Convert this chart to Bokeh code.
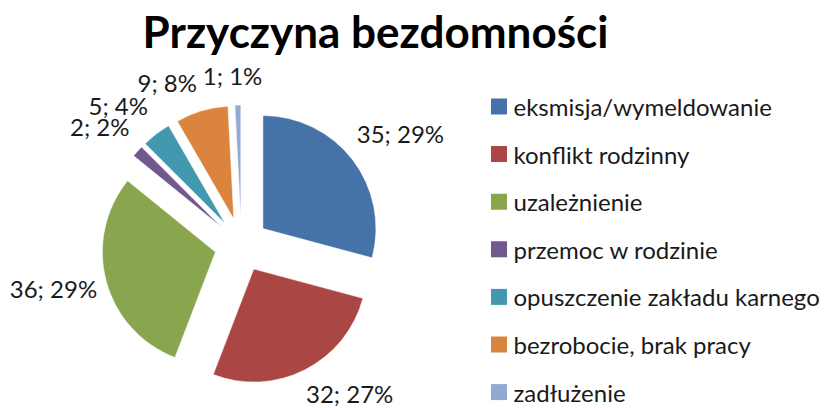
import math
from bokeh.plotting import figure
from bokeh.models import Range1d, ColumnDataSource
from bokeh.core.properties import value
from bokeh.embed import file_html
from bokeh.resources import INLINE

# ---- data ----
categories = ["eksmisja/wymeldowanie", "konflikt rodzinny", "uzależnienie",
              "przemoc w rodzinie", "opuszczenie zakładu karnego",
              "bezrobocie, brak pracy", "zadłużenie"]
counts = [35, 32, 36, 2, 5, 9, 1]
percents = [29, 27, 29, 2, 4, 8, 1]
title_text = "Przyczyna bezdomności"

# ---- styles / layout ----
colors = ["#4572A7", "#AA4643", "#89A54E", "#71588F", "#4198AF", "#DB843D", "#93A9CF"]
W, H = 829, 410
cx, cy = 241, H - 244.5      # pie centre (data units = pixels)
R = 113                       # radius
explode = 27                  # explosion distance
label_r = [194, 184, 193, 185, 186, 179, 170]
label_shift = [2.5, -9, 2, -2, -4, -8, -1.5]   # degrees relative to bisector
FONT = "Lato"

total = sum(counts)
starts, ends, xs, ys, lx, ly, ltxt = [], [], [], [], [], [], []
acc = 0.0
for i, c in enumerate(counts):
    t0 = acc / total * 360.0
    acc += c
    t1 = acc / total * 360.0
    tm = (t0 + t1) / 2
    starts.append(math.pi / 2 - math.radians(t0))
    ends.append(math.pi / 2 - math.radians(t1))
    xs.append(cx + explode * math.sin(math.radians(tm)))
    ys.append(cy + explode * math.cos(math.radians(tm)))
    ta = math.radians(tm + label_shift[i])
    lx.append(cx + label_r[i] * math.sin(ta))
    ly.append(cy + label_r[i] * math.cos(ta))
    ltxt.append(f"{c}; {percents[i]}%")

src = ColumnDataSource(dict(x=xs, y=ys, start=starts, end=ends, color=colors,
                            lx=lx, ly=ly, ltxt=ltxt))

p = figure(width=W, height=H, x_range=Range1d(0, W), y_range=Range1d(0, H),
           output_backend="svg", toolbar_location=None, min_border=0)
p.axis.visible = False
p.grid.visible = False
p.outline_line_color = None
p.background_fill_color = "white"
p.border_fill_color = "white"

p.wedge(x="x", y="y", radius=R, start_angle="start", end_angle="end",
        direction="clock", fill_color="color", line_color="white", line_width=0.5,
        source=src)

p.text(x="lx", y="ly", text="ltxt", source=src, text_align="center",
       text_baseline="middle", text_font=value(FONT), text_font_size="24px",
       text_color="#1a1a1a")

# title
p.text(x=[375], y=[H - 30], text=[title_text], text_align="center",
       text_baseline="middle", text_font=value(FONT), text_font_style="bold",
       text_font_size="44px", text_color="black")

# legend
leg_y = [H - (106 + i * 47.6) for i in range(len(categories))]
p.rect(x=[498.5] * len(categories), y=leg_y, width=16, height=16,
       fill_color=colors, line_color=None)
p.text(x=[513] * len(categories), y=leg_y, text=categories, text_align="left",
       text_baseline="middle", text_font=value(FONT), text_font_size="24px",
       text_color="#1a1a1a")

open("out.html", "w").write(file_html(p, INLINE))
